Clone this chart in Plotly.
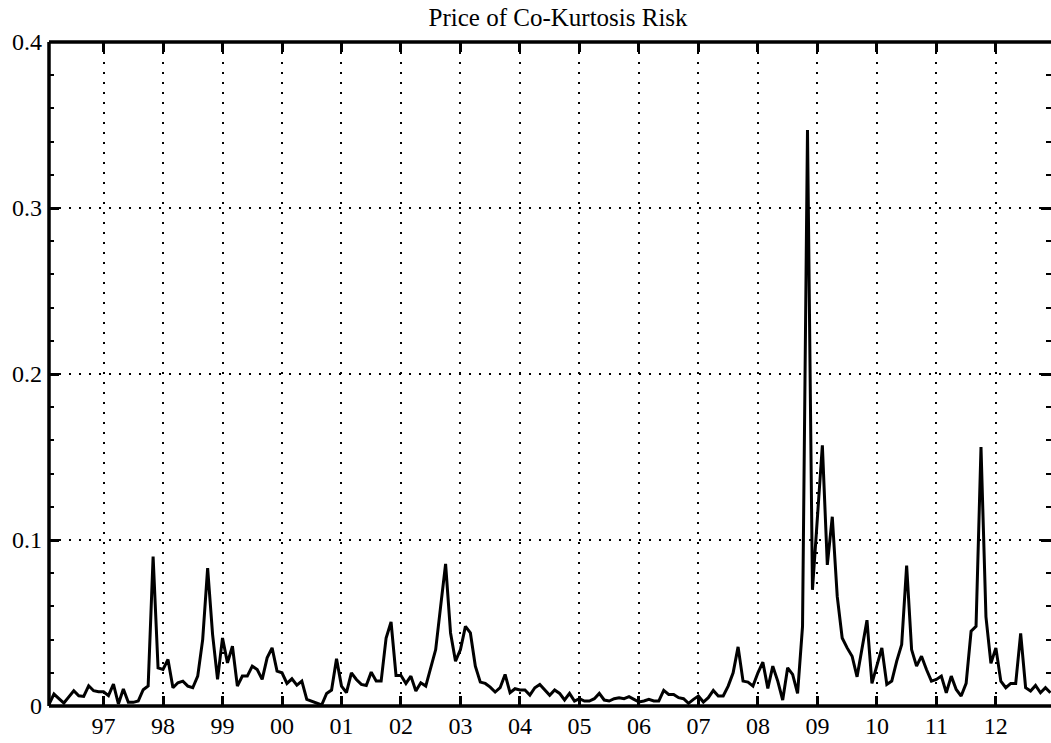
import plotly.graph_objects as go

# ---- data (monthly, Feb 1996 .. Dec 2012) ----
start_year = 1996
start_month = 2
price = [
    0.001, 0.0072, 0.0045, 0.0018, 0.0055, 0.0092, 0.0062, 0.0058, 0.0122, 0.0092, 0.0086,   # 1996 Feb-Dec
    0.0086, 0.0062, 0.0132, 0.0012, 0.0102, 0.0022, 0.0022, 0.003, 0.0098, 0.012, 0.090, 0.023,  # 1997
    0.022, 0.028, 0.011, 0.014, 0.015, 0.012, 0.011, 0.018, 0.040, 0.083, 0.043, 0.016,  # 1998
    0.041, 0.026, 0.036, 0.012, 0.018, 0.018, 0.024, 0.022, 0.016, 0.029, 0.035, 0.021,  # 1999
    0.020, 0.0136, 0.0164, 0.0126, 0.015, 0.004, 0.003, 0.0016, 0.0006, 0.0076, 0.0096, 0.0284,  # 2000
    0.012, 0.008, 0.020, 0.016, 0.013, 0.0124, 0.0204, 0.015, 0.015, 0.041, 0.0506, 0.0184,  # 2001
    0.0184, 0.0136, 0.018, 0.009, 0.014, 0.012, 0.023, 0.034, 0.060, 0.0856, 0.044, 0.027,  # 2002
    0.034, 0.048, 0.044, 0.024, 0.0144, 0.0136, 0.0114, 0.0084, 0.011, 0.019, 0.008, 0.0104,  # 2003
    0.0096, 0.0096, 0.0066, 0.011, 0.013, 0.010, 0.0064, 0.0096, 0.0076, 0.0036, 0.0076, 0.003,  # 2004
    0.0044, 0.003, 0.003, 0.0044, 0.0076, 0.0036, 0.003, 0.0044, 0.005, 0.0044, 0.0056, 0.004,  # 2005
    0.0024, 0.003, 0.004, 0.003, 0.003, 0.0094, 0.007, 0.007, 0.005, 0.0044, 0.0016, 0.004,  # 2006
    0.006, 0.0024, 0.005, 0.0094, 0.006, 0.006, 0.012, 0.020, 0.0356, 0.015, 0.0144, 0.012,  # 2007
    0.020, 0.0264, 0.0106, 0.024, 0.015, 0.0036, 0.023, 0.019, 0.0076, 0.048, 0.347, 0.070,  # 2008
    0.113, 0.157, 0.085, 0.114, 0.066, 0.041, 0.035, 0.030, 0.0176, 0.035, 0.0517, 0.0136,  # 2009
    0.024, 0.035, 0.013, 0.015, 0.027, 0.037, 0.0846, 0.034, 0.024, 0.030, 0.022, 0.015,  # 2010
    0.016, 0.018, 0.008, 0.018, 0.010, 0.006, 0.0136, 0.045, 0.048, 0.156, 0.0537, 0.0257,  # 2011
    0.035, 0.015, 0.011, 0.0136, 0.0136, 0.0437, 0.011, 0.009, 0.0124, 0.008, 0.011, 0.008,  # 2012
]
tick_years = list(range(1997, 2013))
tick_labels = ["97", "98", "99", "00", "01", "02", "03", "04", "05", "06", "07", "08", "09", "10", "11", "12"]
y_ticks = [0, 0.1, 0.2, 0.3, 0.4]
y_labels = ["0", "0.1", "0.2", "0.3", "0.4"]
title_text = "Price of Co-Kurtosis Risk"

t = [start_year + (start_month - 1 + i) / 12 for i in range(len(price))]

FONT = "Liberation Serif, Times New Roman, serif"

fig = go.Figure()
fig.add_trace(go.Scatter(x=t, y=price, mode="lines",
                         line=dict(color="black", width=3), hoverinfo="skip"))

fig.update_layout(
    width=1051, height=743,
    margin=dict(l=49, r=0, t=42, b=37),
    paper_bgcolor="white", plot_bgcolor="white",
    showlegend=False,
    font=dict(family=FONT, size=24, color="black"),
    title=dict(text=title_text, x=0.531, xanchor="center", xref="container",
               y=1 - 17 / 743, yanchor="middle", yref="container",
               font=dict(family=FONT, size=25, color="black")),
)

fig.update_xaxes(
    range=[t[0], t[-1] + 0.01],
    tickmode="array", tickvals=tick_years, ticktext=tick_labels,
    ticks="inside", ticklen=10, tickwidth=3, tickcolor="black",
    mirror="ticks", showline=False, zeroline=False,
    showgrid=True, gridcolor="black", gridwidth=2, griddash="2px,8px",
    tickfont=dict(family=FONT, size=24, color="black"),
    ticklabelstandoff=3,
)
fig.update_yaxes(
    range=[0, 0.4],
    tickmode="array", tickvals=y_ticks, ticktext=y_labels,
    ticks="inside", ticklen=10, tickwidth=3, tickcolor="black",
    minor=dict(dtick=0.02, tick0=0, ticks="inside", ticklen=5, tickwidth=2,
               tickcolor="black", showgrid=False),
    mirror="ticks", showline=False, zeroline=False,
    showgrid=True, gridcolor="black", gridwidth=2, griddash="2px,8px",
    tickfont=dict(family=FONT, size=24, color="black"),
    ticklabelstandoff=6,
)

# frame: left, top, bottom
for (x0, y0, x1, y1) in [(0, 0, 0, 1), (0, 1, 1, 1), (0, 0, 1, 0)]:
    fig.add_shape(type="line", xref="paper", yref="paper", x0=x0, y0=y0, x1=x1, y1=y1,
                  line=dict(color="black", width=3.5), layer="above")

fig.write_html("out.html")
